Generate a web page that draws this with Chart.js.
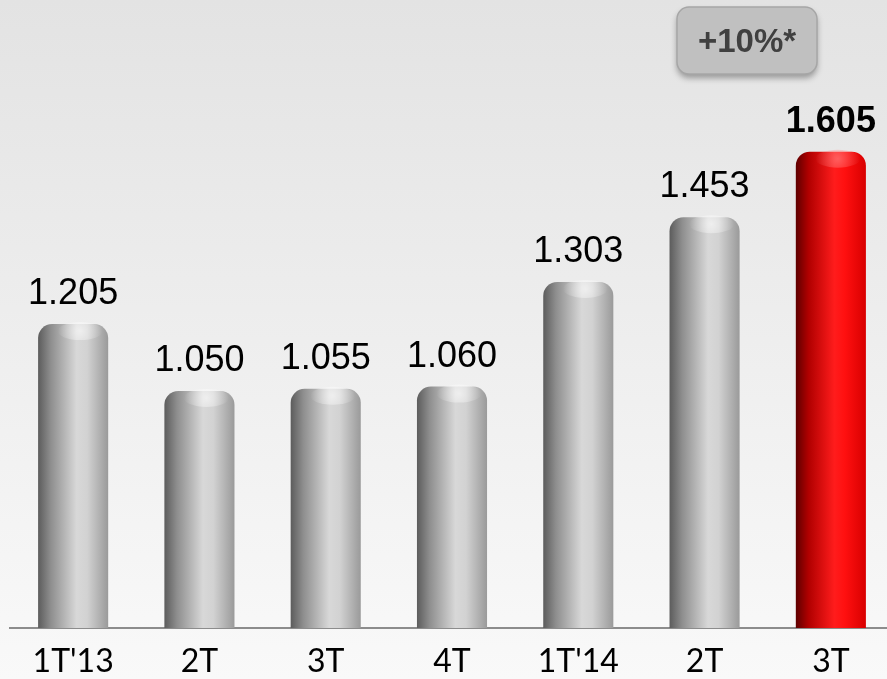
<!DOCTYPE html>
<html>
<head>
<meta charset="utf-8">
<style>
  html, body { margin: 0; padding: 0; overflow: hidden; background: #eeeeee; }
  #wrap { position: relative; width: 894px; height: 679px; }
</style>
<script src="https://cdn.jsdelivr.net/npm/chart.js@4/dist/chart.umd.min.js"></script>
</head>
<body>
<div id="wrap"><canvas id="chart"></canvas></div>
<script>
(function() {

  // ***************************************************
  // Chart data
  // ***************************************************

  var categories = ["1T'13", '2T', '3T', '4T', "1T'14", '2T', '3T'];
  var revenue    = [1.205, 1.050, 1.055, 1.060, 1.303, 1.453, 1.605];
  var highlight  = 6;          // index of the current quarter
  var growthNote = '+10%*';

  var BAR_SHARE = 0.555;

  /**
   * Horizontal gradient that gives each bar its cylinder look
   */
  function barFill(context) {
      var chart = context.chart;
      var area = chart.chartArea;
      if (!area) return '#bbbbbb';
      var i = context.dataIndex;
      var cx = chart.scales.x.getPixelForValue(i);
      var half = (area.width / categories.length) * BAR_SHARE / 2;
      var g = chart.ctx.createLinearGradient(cx - half, 0, cx + half, 0);
      if (i === highlight) {
          g.addColorStop(0, '#5e0000');
          g.addColorStop(0.18, '#b00000');
          g.addColorStop(0.55, '#ff1c1c');
          g.addColorStop(0.7, '#ff1010');
          g.addColorStop(1, '#d80000');
      } else {
          g.addColorStop(0, '#5c5c5c');
          g.addColorStop(0.18, '#8e8e8e');
          g.addColorStop(0.55, '#d8d8d8');
          g.addColorStop(0.7, '#d2d2d2');
          g.addColorStop(1, '#9a9a9a');
      }
      return g;
  }

  // Soft grey page background
  var backdrop = {
      id: 'backdrop',
      beforeDraw: function(chart) {
          var ctx = chart.ctx;
          var g = ctx.createLinearGradient(0, 0, 0, chart.height);
          g.addColorStop(0, '#e3e3e3');
          g.addColorStop(1, '#f9f9f9');
          ctx.save();
          ctx.fillStyle = g;
          ctx.fillRect(0, 0, chart.width, chart.height);
          ctx.restore();
      }
  };

  // Glossy spot on the rounded cap of each bar
  var capShine = {
      id: 'capShine',
      afterDatasetsDraw: function(chart) {
          var ctx = chart.ctx;
          var bars = chart.getDatasetMeta(0).data;
          ctx.save();
          bars.forEach(function(bar, i) {
              var w = bar.width;
              var sx = bar.x + w * 0.1;
              var sy = bar.y + 7;
              var g = ctx.createRadialGradient(sx, sy, 0, sx, sy, w * 0.32);
              var tint = i === highlight ? '255,140,140' : '255,255,255';
              g.addColorStop(0, 'rgba(' + tint + ',0.6)');
              g.addColorStop(1, 'rgba(' + tint + ',0)');
              ctx.fillStyle = g;
              ctx.beginPath();
              ctx.ellipse(sx, sy, w * 0.32, 9, 0, 0, Math.PI * 2);
              ctx.fill();
          });
          ctx.restore();
      }
  };

  // Values above the bars and quarter names under the axis
  var barText = {
      id: 'barText',
      afterDatasetsDraw: function(chart) {
          var ctx = chart.ctx;
          var xScale = chart.scales.x;
          var bars = chart.getDatasetMeta(0).data;
          ctx.save();
          ctx.textAlign = 'center';
          ctx.textBaseline = 'alphabetic';
          ctx.fillStyle = '#000000';
          bars.forEach(function(bar, i) {
              ctx.font = (i === highlight ? 'bold ' : '') + '36px "Liberation Sans", Arial, sans-serif';
              ctx.fillText(revenue[i].toFixed(3), bar.x, bar.y - 20);
          });
          ctx.font = '32px Lato, "Open Sans", sans-serif';
          categories.forEach(function(name, i) {
              ctx.fillText(name, xScale.getPixelForValue(i), chart.chartArea.bottom + 44);
          });
          ctx.restore();
      }
  };

  // Growth badge in the top right corner
  var growthBadge = {
      id: 'growthBadge',
      afterDraw: function(chart) {
          var ctx = chart.ctx;
          var x = 677, y = 7, w = 140, h = 67, r = 12;
          ctx.save();
          ctx.shadowColor = 'rgba(0,0,0,0.35)';
          ctx.shadowBlur = 6;
          ctx.shadowOffsetY = 4;
          ctx.beginPath();
          ctx.roundRect(x, y, w, h, r);
          ctx.fillStyle = '#c0c0c0';
          ctx.fill();
          ctx.shadowColor = 'transparent';
          ctx.lineWidth = 1.5;
          ctx.strokeStyle = '#a6a6a6';
          ctx.stroke();
          ctx.fillStyle = '#404040';
          ctx.font = 'bold 33px "Liberation Sans", Arial, sans-serif';
          ctx.textAlign = 'center';
          ctx.textBaseline = 'middle';
          ctx.fillText(growthNote, x + w / 2, y + h / 2 + 2);
          ctx.restore();
      }
  };

  new Chart(document.getElementById('chart'), {
      type: 'bar',
      data: {
          labels: categories,
          datasets: [{
              data: revenue,
              backgroundColor: barFill,
              borderWidth: 0,
              borderRadius: { topLeft: 14, topRight: 14, bottomLeft: 0, bottomRight: 0 },
              borderSkipped: 'bottom',
              categoryPercentage: 1,
              barPercentage: BAR_SHARE
          }]
      },
      options: {
          responsive: true,
          maintainAspectRatio: false,
          animation: false,
          layout: { padding: { left: 10, right: 0, top: 3, bottom: 51 } },
          plugins: {
              legend: { display: false },
              tooltip: { enabled: false }
          },
          scales: {
              x: {
                  grid: { display: false, drawTicks: false },
                  border: { display: true, color: '#8c8c8c', width: 2 },
                  ticks: { display: false }
              },
              y: {
                  display: false,
                  min: 0.5,
                  max: 1.95
              }
          }
      },
      plugins: [backdrop, capShine, barText, growthBadge]
  });

})();
</script>
</body>
</html>
